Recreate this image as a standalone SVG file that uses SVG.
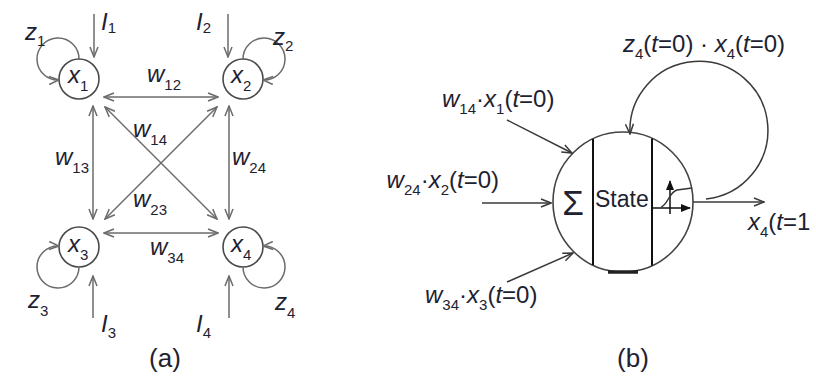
<svg xmlns="http://www.w3.org/2000/svg" width="816" height="378" viewBox="0 0 816 378">
<defs>
<style>
.t{font-family:"Liberation Sans",Arial,sans-serif;font-size:24px;fill:#1e2230}
.i{font-style:italic}
.s{font-size:15px;font-style:normal}
.cap{font-size:26px}
.ca{fill:none;stroke:#6b6b6b;stroke-width:1.5}
.cb{fill:none;stroke:#3a3a3a;stroke-width:1.5}
.node{fill:#fff;stroke:#4a4a4a;stroke-width:1.6}
.bar{stroke:#111;stroke-width:2}
</style>
<marker id="ag" viewBox="0 0 12 10" refX="11" refY="5" markerWidth="12" markerHeight="10" markerUnits="userSpaceOnUse" orient="auto-start-reverse"><path d="M1,1 L11,5 L1,9" fill="none" stroke="#6b6b6b" stroke-width="1.5"/></marker>
<marker id="ab" viewBox="0 0 12 10" refX="11" refY="5" markerWidth="12" markerHeight="10" markerUnits="userSpaceOnUse" orient="auto-start-reverse"><path d="M1,1 L11,5 L1,9" fill="none" stroke="#3a3a3a" stroke-width="1.5"/></marker>
<marker id="af" viewBox="0 0 10 8" refX="9" refY="4" markerWidth="10" markerHeight="8" markerUnits="userSpaceOnUse" orient="auto"><path d="M0,0 L10,4 L0,8 z" fill="#111"/></marker>
</defs>
<rect width="816" height="378" fill="#fff"/>

<!-- (a) nodes -->
<g id="x1"><circle class="node" cx="79" cy="79" r="20"/><text class="t" x="68" y="83"><tspan class="i">x</tspan><tspan class="s" dy="8">1</tspan></text></g>
<g id="x2"><circle class="node" cx="243" cy="79" r="20"/><text class="t" x="231" y="83"><tspan class="i">x</tspan><tspan class="s" dy="8">2</tspan></text></g>
<g id="x3"><circle class="node" cx="79" cy="247" r="20"/><text class="t" x="68" y="252"><tspan class="i">x</tspan><tspan class="s" dy="8">3</tspan></text></g>
<g id="x4"><circle class="node" cx="243" cy="247" r="20"/><text class="t" x="231" y="252"><tspan class="i">x</tspan><tspan class="s" dy="8">4</tspan></text></g>

<!-- (a) connectors -->
<g id="connectors-a" class="ca">
<line x1="94" y1="14" x2="94" y2="57" marker-end="url(#ag)"/>
<line x1="228" y1="14" x2="228" y2="57" marker-end="url(#ag)"/>
<line x1="93" y1="318" x2="93" y2="276" marker-end="url(#ag)"/>
<line x1="229" y1="318" x2="229" y2="276" marker-end="url(#ag)"/>
<line x1="104" y1="97" x2="218" y2="97" marker-start="url(#ag)" marker-end="url(#ag)"/>
<line x1="104" y1="233" x2="218" y2="233" marker-start="url(#ag)" marker-end="url(#ag)"/>
<line x1="93" y1="106" x2="93" y2="219" marker-start="url(#ag)" marker-end="url(#ag)"/>
<line x1="229" y1="106" x2="229" y2="219" marker-start="url(#ag)" marker-end="url(#ag)"/>
<line x1="105" y1="107" x2="217" y2="219" marker-start="url(#ag)" marker-end="url(#ag)"/>
<line x1="217" y1="107" x2="105" y2="219" marker-start="url(#ag)" marker-end="url(#ag)"/>
<path d="M79 59 A21 21 0 1 0 59 80" marker-end="url(#ag)"/>
<path d="M243 59 A21 21 0 1 1 263 80" marker-end="url(#ag)"/>
<path d="M79 267 A21 21 0 1 1 59 246" marker-end="url(#ag)"/>
<path d="M243 267 A21 21 0 1 0 263 246" marker-end="url(#ag)"/>
</g>

<!-- (a) labels -->
<g id="labels-a">
<text class="t" x="25" y="40"><tspan class="i">z</tspan><tspan class="s" dy="6">1</tspan></text>
<text class="t" x="101" y="30"><tspan class="i">I</tspan><tspan class="s" dy="3">1</tspan></text>
<text class="t" x="196" y="30"><tspan class="i">I</tspan><tspan class="s" dy="3">2</tspan></text>
<text class="t" x="273" y="45"><tspan class="i">z</tspan><tspan class="s" dy="6">2</tspan></text>
<text class="t" x="147" y="82"><tspan class="i">w</tspan><tspan class="s" dy="8">12</tspan></text>
<text class="t" x="55" y="165"><tspan class="i">w</tspan><tspan class="s" dy="8">13</tspan></text>
<text class="t" x="232" y="165"><tspan class="i">w</tspan><tspan class="s" dy="8">24</tspan></text>
<text class="t" x="133" y="137"><tspan class="i">w</tspan><tspan class="s" dy="8">14</tspan></text>
<text class="t" x="133" y="207"><tspan class="i">w</tspan><tspan class="s" dy="8">23</tspan></text>
<text class="t" x="150" y="255"><tspan class="i">w</tspan><tspan class="s" dy="8">34</tspan></text>
<text class="t" x="28" y="308"><tspan class="i">z</tspan><tspan class="s" dy="8">3</tspan></text>
<text class="t" x="275" y="310"><tspan class="i">z</tspan><tspan class="s" dy="8">4</tspan></text>
<text class="t" x="101" y="332"><tspan class="i">I</tspan><tspan class="s" dy="6">3</tspan></text>
<text class="t" x="196" y="332"><tspan class="i">I</tspan><tspan class="s" dy="6">4</tspan></text>
<text class="t cap" x="165" y="367" text-anchor="middle">(a)</text>
</g>

<!-- (b) neuron -->
<g id="neuron">
<circle cx="623" cy="202" r="70" fill="#fff" stroke="#444" stroke-width="1.6"/>
<line class="bar" x1="593" y1="139" x2="593" y2="265"/>
<line class="bar" x1="652" y1="138.5" x2="652" y2="265.5"/>
<line x1="608" y1="272" x2="638" y2="272" stroke="#222" stroke-width="3.5"/>
<text class="t" x="573" y="215" font-size="35" text-anchor="middle" style="font-size:35px">Σ</text>
<text class="t" x="595" y="207" style="font-size:23px">State</text>
<line x1="652" y1="208" x2="690" y2="208" stroke="#111" stroke-width="1.5" marker-end="url(#af)"/>
<line x1="670" y1="214" x2="670" y2="181" stroke="#111" stroke-width="1.5" marker-end="url(#af)"/>
<path d="M661 207 C668 205, 669 192, 677 190 L692 188" fill="none" stroke="#333" stroke-width="1.3"/>
</g>

<!-- (b) connectors -->
<g id="connectors-b" class="cb">
<line x1="507" y1="120" x2="572" y2="153" marker-end="url(#ab)"/>
<line x1="482" y1="203" x2="551" y2="203" marker-end="url(#ab)"/>
<line x1="507" y1="282" x2="573" y2="253" marker-end="url(#ab)"/>
<line x1="693" y1="202" x2="764" y2="202" marker-end="url(#ab)"/>
<path d="M706 199 A69 69 0 1 0 630 134" marker-end="url(#ab)"/>
</g>

<!-- (b) labels -->
<g id="labels-b">
<text class="t" x="623" y="52"><tspan class="i">z</tspan><tspan class="s" dy="7">4</tspan><tspan dy="-7">(</tspan><tspan class="i">t</tspan>=0) · <tspan class="i">x</tspan><tspan class="s" dy="7">4</tspan><tspan dy="-7">(</tspan><tspan class="i">t</tspan>=0)</text>
<text class="t" x="442" y="107"><tspan class="i">w</tspan><tspan class="s" dy="7">14</tspan><tspan dy="-7">·</tspan><tspan class="i">x</tspan><tspan class="s" dy="7">1</tspan><tspan dy="-7">(</tspan><tspan class="i">t</tspan>=0)</text>
<text class="t" x="499" y="188" text-anchor="end"><tspan class="i">w</tspan><tspan class="s" dy="7">24</tspan><tspan dy="-7">·</tspan><tspan class="i">x</tspan><tspan class="s" dy="7">2</tspan><tspan dy="-7">(</tspan><tspan class="i">t</tspan>=0)</text>
<text class="t" x="425" y="303"><tspan class="i">w</tspan><tspan class="s" dy="7">34</tspan><tspan dy="-7">·</tspan><tspan class="i">x</tspan><tspan class="s" dy="7">3</tspan><tspan dy="-7">(</tspan><tspan class="i">t</tspan>=0)</text>
<text class="t" x="748" y="230"><tspan class="i">x</tspan><tspan class="s" dy="7">4</tspan><tspan dy="-7">(</tspan><tspan class="i">t</tspan>=1</text>
<text class="t cap" x="633" y="367" text-anchor="middle">(b)</text>
</g>
</svg>
